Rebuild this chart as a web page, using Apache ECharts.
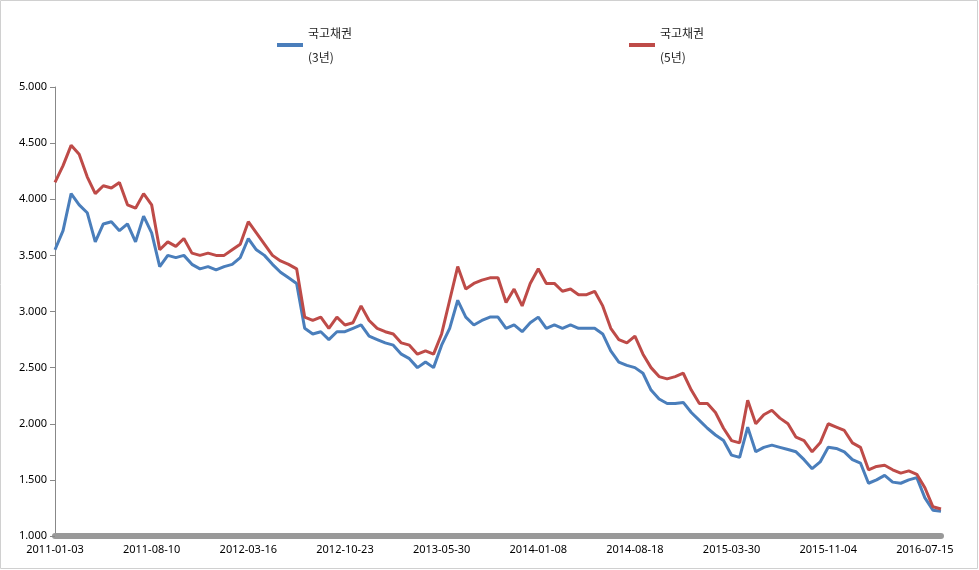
<!DOCTYPE html>
<html><head><meta charset="utf-8">
<script src="https://cdn.jsdelivr.net/npm/echarts@6/dist/echarts.min.js"></script>
<style>html,body{margin:0;padding:0;background:#fff}#c{width:979px;height:570px}</style>
</head><body><div id="c"></div>
<script>
const tickLabels = ['2011-01-03','2011-08-10','2012-03-16','2012-10-23','2013-05-30','2014-01-08','2014-08-18','2015-03-30','2015-11-04','2016-07-15'];
const bond3y = [
 3.55,3.72,4.05,3.95,3.88,3.62,3.78,3.80,3.72,3.78,3.62,3.85,
 3.70,3.40,3.50,3.48,3.50,3.42,3.38,3.40,3.37,3.40,3.42,3.48,
 3.65,3.55,3.50,3.42,3.35,3.30,3.25,2.85,2.80,2.82,2.75,2.82,
 2.82,2.85,2.88,2.78,2.75,2.72,2.70,2.62,2.58,2.50,2.55,2.50,
 2.70,2.85,3.10,2.95,2.88,2.92,2.95,2.95,2.85,2.88,2.82,2.90,
 2.95,2.85,2.88,2.85,2.88,2.85,2.85,2.85,2.80,2.65,2.55,2.52,
 2.50,2.45,2.30,2.22,2.18,2.18,2.19,2.10,2.03,1.96,1.90,1.85,
 1.72,1.70,1.97,1.75,1.79,1.81,1.79,1.77,1.75,1.68,1.60,1.66,
 1.79,1.78,1.75,1.68,1.65,1.47,1.50,1.54,1.48,1.47,1.50,1.52,
 1.34,1.23,1.22];
const bond5y = [
 4.15,4.30,4.48,4.40,4.20,4.05,4.12,4.10,4.15,3.95,3.92,4.05,
 3.95,3.55,3.62,3.58,3.65,3.52,3.50,3.52,3.50,3.50,3.55,3.60,
 3.80,3.70,3.60,3.50,3.45,3.42,3.38,2.95,2.92,2.95,2.85,2.95,
 2.88,2.90,3.05,2.92,2.85,2.82,2.80,2.72,2.70,2.62,2.65,2.62,
 2.80,3.10,3.40,3.20,3.25,3.28,3.30,3.30,3.08,3.20,3.05,3.25,
 3.38,3.25,3.25,3.18,3.20,3.15,3.15,3.18,3.05,2.85,2.75,2.72,
 2.78,2.62,2.50,2.42,2.40,2.42,2.45,2.30,2.18,2.18,2.10,1.96,
 1.85,1.83,2.21,2.00,2.08,2.12,2.05,2.00,1.88,1.85,1.75,1.83,
 2.00,1.97,1.94,1.83,1.79,1.59,1.62,1.63,1.59,1.56,1.58,1.55,
 1.43,1.26,1.24];
const perTick = 12;
const categories = [];
tickLabels.forEach(t => { categories.push(t); for (let i = 1; i < perTick; i++) categories.push(''); });
categories.length = bond3y.length;
for (let i = 0; i < bond3y.length; i++) if (categories[i] === undefined) categories[i] = '';
const n3 = '국고채권\n(3년)', n5 = '국고채권\n(5년)';
const chart = echarts.init(document.getElementById('c'));
const lg = {itemWidth: 26, itemHeight: 4, itemGap: 4, textStyle: {fontSize: 12, color: '#222', lineHeight: 24, fontFamily: 'Noto Sans CJK KR'}, icon: 'rect', top: 16};
chart.setOption({
 animation: false,
 graphic: [{type: 'rect', shape: {x: 0.5, y: 0.5, width: 977, height: 568}, style: {fill: 'none', stroke: '#d0d0d0', lineWidth: 1}, silent: true}],
 legend: [Object.assign({left: 272, data: [n3]}, lg), Object.assign({left: 624, data: [n5]}, lg)],
 grid: {left: 55, right: 38, top: 87, bottom: 34},
 xAxis: {type: 'category', data: categories, boundaryGap: false,
   axisLine: {lineStyle: {color: '#999', width: 6}}, axisTick: {show: false},
   axisLabel: {interval: 0, color: '#000', fontSize: 11, fontFamily: 'Noto Sans', margin: 8}},
 yAxis: {type: 'value', min: 1, max: 5, interval: 0.5,
   axisLine: {show: true, lineStyle: {color: '#888'}}, axisTick: {show: true, length: 5, lineStyle: {color: '#888'}},
   splitLine: {show: false},
   axisLabel: {formatter: v => v.toFixed(3), color: '#000', fontSize: 11, fontFamily: 'Noto Sans'}},
 series: [
  {name: n3, type: 'line', data: bond3y, showSymbol: false, lineStyle: {width: 3, color: '#4a7ebb'}, itemStyle: {color: '#4a7ebb'}},
  {name: n5, type: 'line', data: bond5y, showSymbol: false, lineStyle: {width: 3, color: '#be4b48'}, itemStyle: {color: '#be4b48'}}
 ]
});
</script></body></html>
